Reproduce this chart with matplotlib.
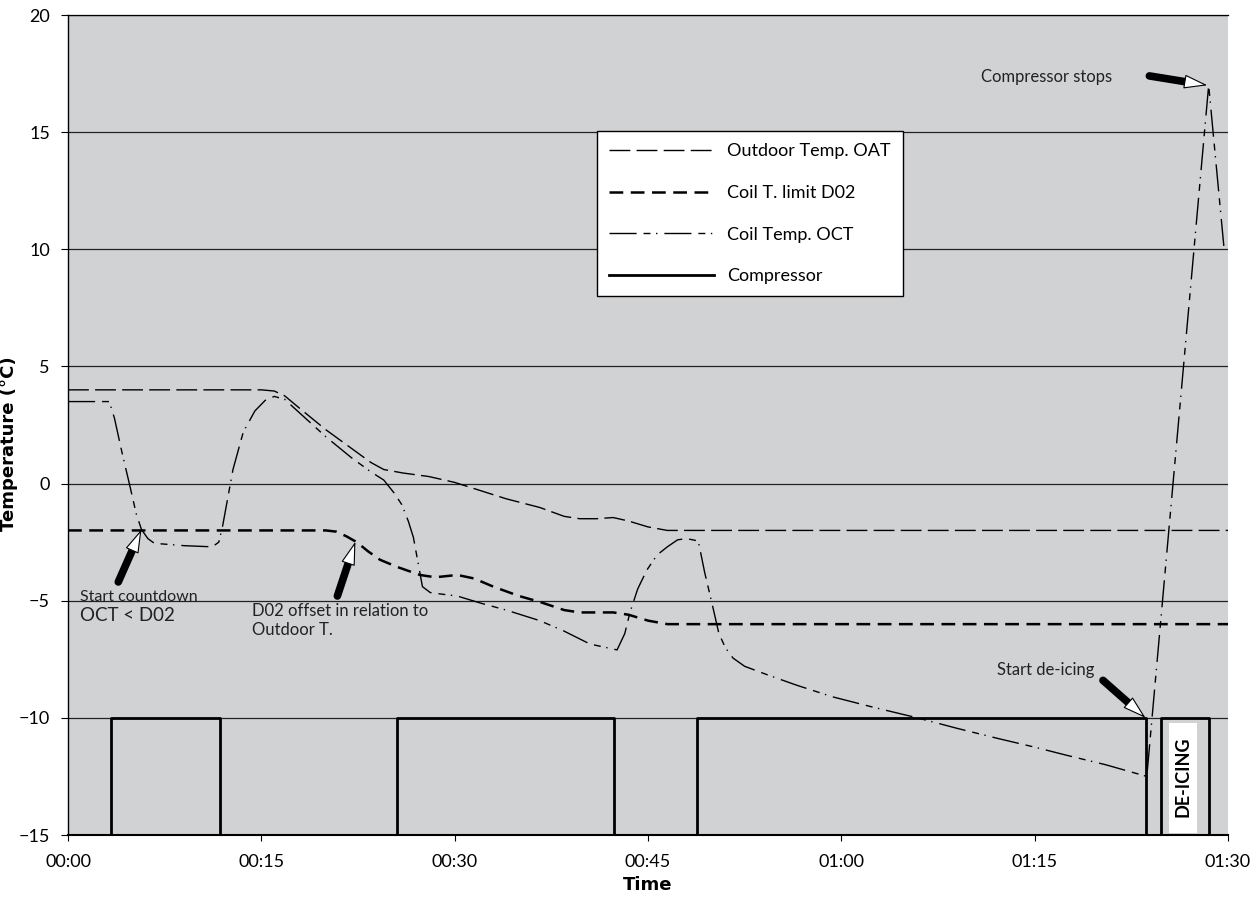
import matplotlib.pyplot as plt
from matplotlib.patches import Rectangle

# time in minutes, temperatures in degC
oat_t = [0, 15, 16, 16.8, 18, 20, 22, 23.5, 24.5, 26, 28, 30, 32, 34, 36.6, 38.5, 39.7,
         41, 42.3, 43.5, 45, 46.5, 48, 90]
oat_v = [4, 4, 3.95, 3.75, 3.2, 2.3, 1.5, 0.9, 0.6, 0.45, 0.3, 0.05, -0.3, -0.65, -1.02,
         -1.4, -1.5, -1.5, -1.45, -1.6, -1.85, -2.0, -2.0, -2.0]

d02_t = [0, 20, 20.8, 21.6, 22.4, 23.3, 24.2, 25.5, 27.3, 28.5, 30.2, 31.5, 33, 35, 36.6,
         38.5, 39.7, 42.3, 43.5, 45, 46.5, 48, 90]
d02_v = [-2, -2, -2.05, -2.25, -2.5, -2.9, -3.25, -3.55, -3.9, -4.0, -3.9, -4.05, -4.4,
         -4.8, -5.05, -5.4, -5.5, -5.5, -5.6, -5.85, -6.0, -6.0, -6.0]

oct_t = [0, 3.2, 3.6, 4.2, 4.8, 5.3, 5.7, 6.2, 6.7, 9, 11.2, 11.7, 12.0, 12.4, 12.8, 13.6,
         14.5, 15.3, 16.0, 16.8, 18, 20, 22, 23.5, 24.5, 25.3, 25.9, 26.4, 26.8, 27.2, 27.5,
         28.1, 29, 30.2, 32, 34, 36.6, 38.5, 40.5, 42.6, 43.2, 43.6, 44.2, 44.9, 45.7, 46.5,
         47.3, 48.0, 48.9, 49.4, 50.0, 50.5, 51.0, 51.6, 52.5, 54.2, 56.5, 59.3, 62.5, 65.9,
         69, 72.3, 75, 77.5, 80.5, 83.7, 88.5, 89.7]
oct_v = [3.5, 3.5, 2.8, 1.3, -0.1, -1.3, -1.96, -2.35, -2.55, -2.65, -2.7, -2.5, -1.8, -0.6,
         0.6, 2.2, 3.1, 3.55, 3.72, 3.6, 3.0, 2.0, 1.1, 0.5, 0.15, -0.4, -0.9, -1.6, -2.3,
         -3.5, -4.4, -4.65, -4.72, -4.8, -5.1, -5.4, -5.85, -6.3, -6.85, -7.1, -6.4, -5.5,
         -4.5, -3.7, -3.05, -2.7, -2.4, -2.35, -2.45, -3.8, -5.2, -6.4, -7.0, -7.45, -7.8,
         -8.15, -8.6, -9.1, -9.55, -10.0, -10.45, -10.9, -11.25, -11.6, -12.0, -12.5, 17.0,
         10.0]

comp_t = [0, 3.3, 11.8, 25.5, 42.4, 48.8, 83.6, 84.8, 88.5, 90]
comp_v = [-15, -10, -15, -10, -15, -10, -15, -10, -15, -15]

x_ticks = [0, 15, 30, 45, 60, 75, 90]
x_labels = ['00:00', '00:15', '00:30', '00:45', '01:00', '01:15', '01:30']
y_ticks = [-15, -10, -5, 0, 5, 10, 15, 20]

# (tail, tip) of the annotation arrows
arrows = [((3.9, -4.2), (5.7, -1.96)),
          ((20.9, -4.8), (22.3, -2.48)),
          ((80.3, -8.4), (83.6, -10.0)),
          ((83.9, 17.4), (88.4, 17.0))]

plt.rcParams['font.family'] = ['Lato', 'DejaVu Sans']

fig = plt.figure(figsize=(12.53, 8.99), dpi=100)
ax = fig.add_axes([68 / 1253, 64 / 899, 1160 / 1253, 820 / 899])
ax.set_facecolor('#d1d2d4')

ax.plot(oat_t, oat_v, color='black', lw=1.0, linestyle=(0, (15, 4.5)),
        label='Outdoor Temp. OAT')
ax.plot(d02_t, d02_v, color='black', lw=1.8, linestyle=(0, (5.5, 3)),
        label='Coil T. limit D02')
ax.plot(oct_t, oct_v, color='black', lw=1.0,
        linestyle=(0, (19.5, 5, 5, 4, 1, 5)), label='Coil Temp. OCT')
ax.step(comp_t, comp_v, where='post', color='black', lw=2.0, label='Compressor')

ax.set_xlim(0, 90)
ax.set_ylim(-15, 20)
ax.set_xticks(x_ticks)
ax.set_xticklabels(x_labels)
ax.set_yticks(y_ticks)
ax.grid(axis='y', color='#222222', lw=0.9)
ax.set_axisbelow(True)
ax.tick_params(axis='y', length=5, width=0.8, labelsize=13, pad=8)
ax.tick_params(axis='x', length=4, width=0.8, labelsize=13, pad=10)
ax.spines['right'].set_visible(False)
ax.spines['top'].set_linewidth(0.9)
ax.spines['left'].set_linewidth(1.0)
ax.spines['bottom'].set_linewidth(1.5)

ax.set_xlabel('Time', fontsize=13, fontweight='bold', family='DejaVu Sans', labelpad=4)
ax.set_ylabel('Temperature (°C)', fontsize=13, fontweight='bold', family='DejaVu Sans')
ax.yaxis.set_label_coords(-0.043, 0.477)

leg = ax.legend(loc='upper left', bbox_to_anchor=(597 / 1253, 1 - 131 / 899),
                bbox_transform=fig.transFigure, fontsize=13, frameon=True,
                fancybox=False, edgecolor='black', framealpha=1,
                handlelength=5.8, handletextpad=0.72, labelspacing=1.42,
                borderpad=0.68, borderaxespad=0)
leg.get_frame().set_linewidth(1.0)

for tail, tip in arrows:
    base = (tail[0] + 0.64 * (tip[0] - tail[0]), tail[1] + 0.64 * (tip[1] - tail[1]))
    ax.annotate('', xy=base, xytext=tail,
                arrowprops=dict(arrowstyle='-', lw=5.5, color='black',
                                shrinkA=0, shrinkB=0, capstyle='round'))
    ax.annotate('', xy=tip, xytext=base,
                arrowprops=dict(arrowstyle='-|>,head_length=1.5,head_width=0.45',
                                lw=0.8, fc='white', ec='black', shrinkA=0, shrinkB=0))

txt = dict(ha='left', va='center', color='#222222')
ax.text(0.9, -4.85, 'Start countdown', fontsize=11.5, **txt)
ax.text(0.9, -5.65, 'OCT < D02', fontsize=13.5, **txt)
ax.text(14.3, -5.45, 'D02 offset in relation to', fontsize=12, **txt)
ax.text(14.3, -6.25, 'Outdoor T.', fontsize=12, **txt)
ax.text(79.6, -7.95, 'Start de-icing', fontsize=12, ha='right', va='center',
        color='#222222')
ax.text(81.0, 17.35, 'Compressor stops', fontsize=12, ha='right', va='center',
        color='#222222')

ax.add_patch(Rectangle((85.4, -14.93), 2.2, 4.73, fc='white', ec='none', zorder=3))
ax.text(86.5, -12.5, 'DE-ICING', fontsize=13, fontweight='bold', rotation=90,
        ha='center', va='center', zorder=4)

plt.savefig('out.png', dpi=100)
